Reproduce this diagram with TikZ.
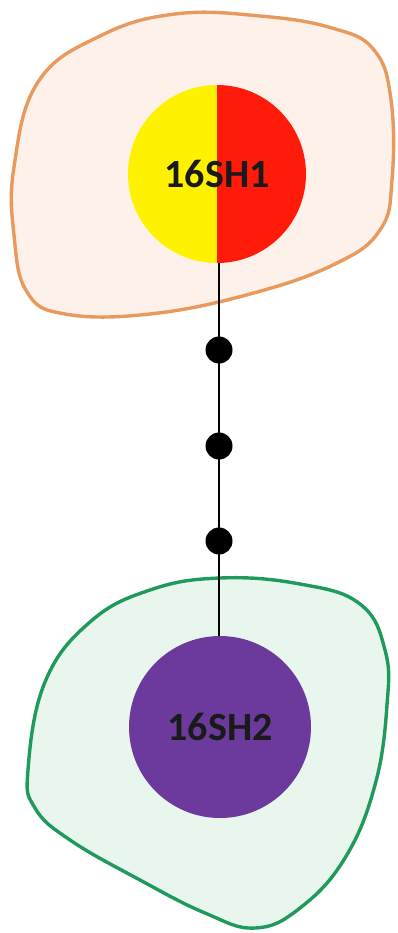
\documentclass[tikz,border=0pt]{standalone}
\usepackage{fontspec}
\setmainfont{Carlito}
\begin{document}
\begin{tikzpicture}[x=1pt,y=-1pt]
\definecolor{peachfill}{HTML}{FDF1E9}
\definecolor{orangeline}{HTML}{E89A5E}
\definecolor{mintfill}{HTML}{E8F6EE}
\definecolor{greenline}{HTML}{1F9A5C}
\definecolor{nucpurple}{HTML}{6B3A9C}
\definecolor{nucred}{HTML}{FF1A0A}
\definecolor{nucyellow}{HTML}{FFF200}
\definecolor{labeltext}{HTML}{1A1A1A}
\tikzset{
  cellA/.style={draw=orangeline, fill=peachfill, line width=3.4pt},
  cellB/.style={draw=greenline, fill=mintfill, line width=3.4pt},
  nucleus/.style={circle, minimum size=178pt, inner sep=0pt, text=labeltext, font=\fontsize{40}{40}\selectfont\bfseries},
  dotnode/.style={circle, fill=black, minimum size=27pt, inner sep=0pt},
  link/.style={draw=black, line width=1.1pt}
}
\useasboundingbox (0,0) rectangle (397,933);
\fill[white] (0,0) rectangle (397,933);
% cells
\draw[cellA] plot[smooth cycle, tension=0.7] coordinates {
  (14,167) (38,82) (100,36) (175,14) (260,16) (332,28) (374,50) (391,100) (392,180) (380,230) (335,264) (250,294) (150,314) (65,314) (27,292) (14,235)};
\draw[cellB] plot[smooth cycle, tension=0.7] coordinates {
  (28,770) (45,682) (90,622) (150,590) (220,578) (300,584) (360,604) (385,650) (387,705) (375,785) (345,858) (300,908) (255,928) (205,913) (140,880) (70,840) (35,808)};
% nuclei
\node[nucleus, path picture={
  \fill[nucyellow] (path picture bounding box.south west) rectangle (path picture bounding box.north);
  \fill[nucred] (path picture bounding box.south) rectangle (path picture bounding box.north east);
}] (n1) at (217,174) {16SH1};
\node[nucleus, fill=nucpurple, minimum size=182pt] (n2) at (220,727) {16SH2};
% connector
\coordinate (c1) at (219,263);
\coordinate (c2) at (219,636);
\draw[link] (c1) -- (c2);
\node[dotnode] (d1) at (219,350) {};
\node[dotnode] (d2) at (219,446) {};
\node[dotnode] (d3) at (219,541) {};
\end{tikzpicture}
\end{document}
